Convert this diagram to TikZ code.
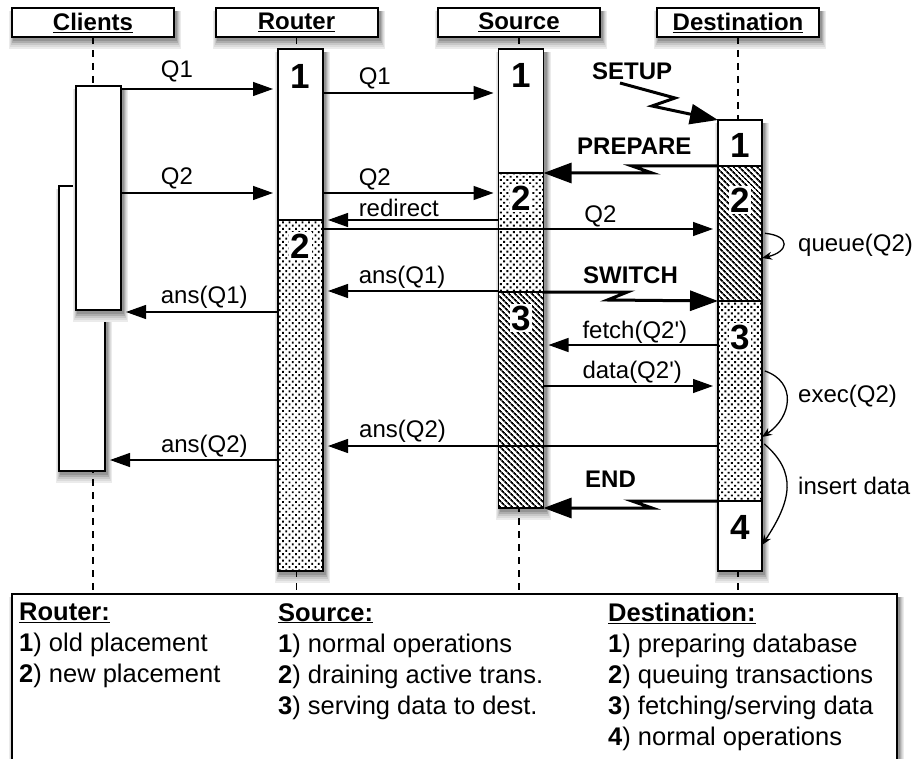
\documentclass[tikz,border=0pt]{standalone}
\usepackage{fontspec}
\setmainfont{Liberation Sans}[Ligatures=TeXOff]
\usetikzlibrary{arrows.meta,patterns.meta}

\pgfdeclarelayer{shadow}
\pgfsetlayers{shadow,main}

\tikzset{
  hdr/.style={draw, line width=2pt, fill=white, minimum width=162pt, minimum height=29pt, inner sep=0pt, outer sep=0pt, font=\fontsize{24}{28}\selectfont\bfseries},
  life/.style={line width=1.3pt, dash pattern=on 7pt off 6pt},
  bar/.style={draw, line width=1.6pt, minimum width=45pt, inner sep=0pt, outer sep=0pt, anchor=north},
  dotfill/.style={pattern={Dots[distance=4.6pt, radius=1.35pt, angle=45]}, pattern color=black},
  hatchfill/.style={pattern={Lines[angle=-45, distance=4pt, line width=1.8pt]}},
  num/.style={fill=white, inner sep=1.5pt, font=\fontsize{35}{35}\selectfont\bfseries},
  msg/.style={line width=1.3pt, -{Triangle[length=20pt,width=14pt]}, shorten >=5pt},
  lbl/.style={inner sep=0pt, anchor=base west, yshift=8pt, font=\fontsize{24}{28}\selectfont},
  bolt/.style={line width=3pt, -{Triangle[length=28pt,width=20pt]}},
  bolttxt/.style={inner sep=0pt, anchor=base west, font=\fontsize{24}{28}\selectfont\bfseries},
  selfarrow/.style={line width=1.3pt, -{Stealth[length=10pt,width=8pt]}, shorten <=3pt},
  sidetxt/.style={inner sep=0pt, anchor=west, font=\fontsize{24}{28}\selectfont},
  legtxt/.style={anchor=north west, align=left, inner sep=0pt, font=\fontsize{25.5}{31}\selectfont},
}

\begin{document}
\begin{tikzpicture}[x=1pt,y=-1pt]
    \useasboundingbox (0,0) rectangle (912,759);
    \clip (0,0) rectangle (912,759);

    %Heads
        \node[hdr] (clients) at (93,22.5) {\underline{Clients}};
        \node[hdr] (router) at (296.5,22.5) {\underline{Router}};
        \node[hdr] (source) at (519,22.5) {\underline{Source}};
        \node[hdr] (dest) at (738,22.5) {\underline{Destination}};

    %Legend box
        \node[draw, line width=2pt, fill=white, anchor=north west, outer sep=0pt,
              minimum width=885pt, minimum height=200pt, inner sep=0pt] (legend) at (12,594) {};

    %Lifelines
        \draw[life] (clients.south) -- (clients.south |- legend.north);
        \draw[life] (router.south) -- (router.south |- legend.north);
        \draw[life] (source.south) -- (source.south |- legend.north);
        \draw[life] (dest.south) -- (dest.south |- legend.north);

    %Clients
        \node[bar, fill=white, minimum width=46pt, minimum height=285pt] (c2) at (82,186) {};
        \foreach \e/\g in {5/8,4/14,3/22,2/32,1/42}
            \fill[black!\g] ({78-\e},{89}) rectangle ({123+\e},{312+2*\e});
        \node[bar, fill=white, minimum height=224pt] (c1) at (98.5,86) {};

    %Router
        \node[bar, fill=white, minimum height=522pt] (rbar) at (300.5,49) {};
        \node[bar, minimum height=171pt] (r1) at (300.5,49) {};
        \node[bar, dotfill, minimum height=351pt] (r2) at (r1.south) {};
        \node[num] (r1n) at ([yshift=-27pt]r1.north) {1};
        \node[num] (r2n) at ([yshift=-26pt]r2.north) {2};

    %Source
        \node[bar, fill=white, minimum height=459pt] (sbar) at (521,49) {};
        \node[bar, minimum height=124pt] (s1) at (521,49) {};
        \node[bar, dotfill, minimum height=119pt] (s2) at (s1.south) {};
        \node[bar, hatchfill, minimum height=216pt] (s3) at (s2.south) {};
        \node[num] (s1n) at ([yshift=-26pt]s1.north) {1};
        \node[num] (s2n) at ([yshift=-25pt]s2.north) {2};
        \node[num] (s3n) at ([yshift=-26pt]s3.north) {3};

    %Destination
        \node[bar, fill=white, minimum width=44pt, minimum height=451pt] (dbar) at (740,120) {};
        \node[bar, minimum width=44pt, minimum height=46pt] (d1) at (740,120) {};
        \node[bar, hatchfill, minimum width=44pt, minimum height=135pt] (d2) at (d1.south) {};
        \node[bar, dotfill, minimum width=44pt, minimum height=200pt] (d3) at (d2.south) {};
        \node[bar, minimum width=44pt, minimum height=70pt] (d4) at (d3.south) {};
        \node[num] (d1n) at ([yshift=-25pt]d1.north) {1};
        \node[num] (d2n) at ([yshift=-34pt]d2.north) {2};
        \node[num] (d3n) at ([yshift=-36pt]d3.north) {3};
        \node[num] (d4n) at ([yshift=-26pt]d4.north) {4};

    %Shadows
        \begin{pgfonlayer}{shadow}
            \foreach \e/\g in {5/8,4/14,3/22,2/32,1/42}
                \foreach \b in {clients,router,source,dest,legend,c2,rbar,sbar,dbar}
                    \fill[black!\g] ([xshift={(2-\e)*1pt}, yshift={-(2*\e+2)*1pt}]\b.south west)
                        rectangle ([xshift={(2+\e)*1pt}, yshift=-3pt]\b.north east);
        \end{pgfonlayer}

    %Messages
        \draw[msg] (c1.east |- 0,89) -- (r1.west |- 0,89) node[lbl, pos=.25, yshift=3pt] {Q1};
        \draw[msg] (r1.east |- 0,93) -- (s1.west |- 0,93) node[lbl, pos=.2] {Q1};
        \draw[msg] (c1.east |- 0,193) -- (r1.west |- 0,193) node[lbl, pos=.25] {Q2};
        \draw[msg] (r1.east |- 0,193) -- (s2.west |- 0,193) node[lbl, pos=.2, yshift=-1pt] {Q2};
        \draw[msg] (s2.west |- 0,220) -- (r2.east |- 0,220) node[lbl, pos=.8, yshift=-5pt] {redirect};
        \draw[msg] (r2.east |- 0,229) -- (d2.west |- 0,229) node[lbl, pos=.66, yshift=-2pt] {Q2};
        \draw[msg] (s2.west |- 0,291) -- (r2.east |- 0,291) node[lbl, pos=.8] {ans(Q1)};
        \draw[msg] (r2.west |- 0,312) -- (c1.east |- 0,312) node[lbl, pos=.75, yshift=1pt] {ans(Q1)};
        \draw[msg] (d3.west |- 0,345) -- (s3.east |- 0,345) node[lbl, pos=.78, yshift=-1pt] {fetch(Q2')};
        \draw[msg] (s3.east |- 0,386) -- (d3.west |- 0,386) node[lbl, pos=.22] {data(Q2')};
        \draw[msg] (d3.west |- 0,446) -- (r2.east |- 0,446) node[lbl, pos=.91, yshift=1pt] {ans(Q2)};
        \draw[msg] (r2.west |- 0,460) -- (c2.east |- 0,460) node[lbl, pos=.68] {ans(Q2)};

    %Control messages
        \coordinate (setupfrom) at (620,83);
        \draw[bolt] (setupfrom) -- ++(55,15) -- ++(-23,8) -- (d1.north west);
        \node[bolttxt] (setup) at (592,80) {SETUP};
        \draw[bolt] (d1.south west) -- ++(-86,0) -- ++(20,7) -- (s2.north east);
        \node[bolttxt] (prepare) at (577,155) {PREPARE};
        \draw[bolt] (s3.north east) -- ++(84,0) -- ++(-20,8) -- (d3.north west);
        \node[bolttxt] (switch) at (583,283) {SWITCH};
        \draw[bolt] (d4.north west) -- ++(-86,0) -- ++(20,7) -- (s3.south east);
        \node[bolttxt] (endmsg) at (585,487) {END};

    %Local work
        \draw[selfarrow] (d2.east |- 0,233) .. controls +(30,3) and +(26,-6) .. (d2.east |- 0,258);
        \node[sidetxt] (queue) at (798,245) {queue(Q2)};
        \draw[selfarrow] (d3.east |- 0,370) .. controls +(35,12) and +(30,-20) .. (d3.east |- 0,437);
        \node[sidetxt] (exec) at (798,396) {exec(Q2)};
        \draw[selfarrow] (d3.east |- 0,442) .. controls +(35,30) and +(30,-45) .. (d4.east |- 0,545);
        \node[sidetxt] (insert) at (798,486) {insert data};

    %Legend text
        \node[legtxt] (legrouter) at (19,603) {\underline{\textbf{Router:}}\\
            \textbf{1}) old placement\\
            \textbf{2}) new placement};
        \node[legtxt] (legsource) at (278,603) {\underline{\textbf{Source:}}\\
            \textbf{1}) normal operations\\
            \textbf{2}) draining active trans.\\
            \textbf{3}) serving data to dest.};
        \node[legtxt] (legdest) at (608,603) {\underline{\textbf{Destination:}}\\
            \textbf{1}) preparing database\\
            \textbf{2}) queuing transactions\\
            \textbf{3}) fetching/serving data\\
            \textbf{4}) normal operations};
\end{tikzpicture}
\end{document}
